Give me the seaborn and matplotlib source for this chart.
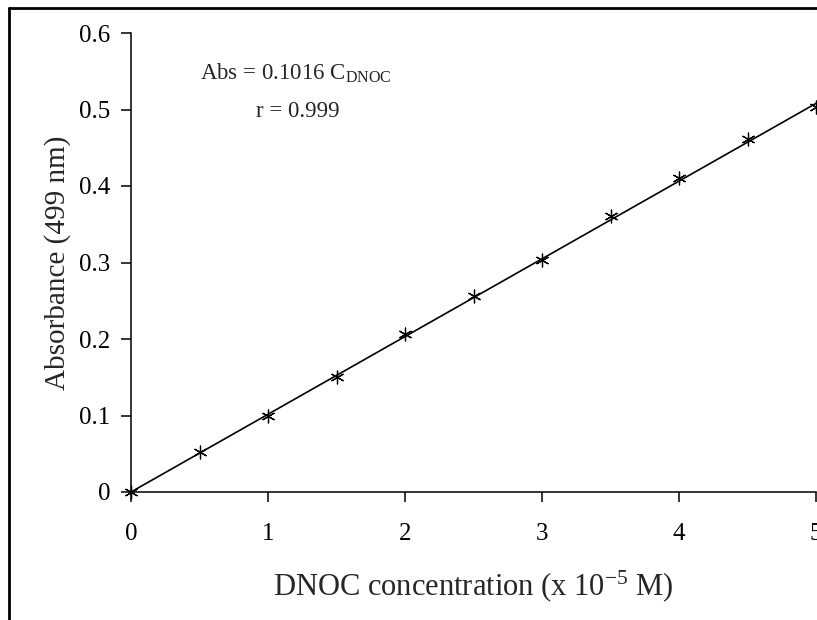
import numpy as np
import pandas as pd
import seaborn as sns
import matplotlib.pyplot as plt
from matplotlib.lines import Line2D

# du lieu doc tu hinh
conc = [0, 0.5, 1, 1.5, 2, 2.5, 3, 3.5, 4, 4.5, 5]
absorb = [0, 0.052, 0.099, 0.150, 0.206, 0.256, 0.303, 0.361, 0.410, 0.461, 0.503]
slope = 0.1016
r_value = 0.999
x_ticks = [0, 1, 2, 3, 4, 5]
y_ticks = [0, 0.1, 0.2, 0.3, 0.4, 0.5, 0.6]
y_tick_labels = ["0", "0.1", "0.2", "0.3", "0.4", "0.5", "0.6"]

df = pd.DataFrame({"conc": conc, "abs": absorb})
df["fit"] = slope * df["conc"]

sns.set_theme(style="ticks")
plt.rcParams["font.family"] = ["Liberation Serif", "DejaVu Serif"]
plt.rcParams["mathtext.fontset"] = "custom"
plt.rcParams["mathtext.rm"] = "Liberation Serif"
plt.rcParams["mathtext.it"] = "Liberation Serif:italic"

fig = plt.figure(figsize=(8.17, 6.2), dpi=100)
ax = fig.add_axes([131 / 817, 128 / 620, 685 / 817, 459 / 620])

# duong hoi quy
sns.lineplot(data=df, x="conc", y="fit", ax=ax, color="black", linewidth=1.2)
# cac diem do
sns.scatterplot(data=df, x="conc", y="abs", ax=ax, marker=(6, 2, 0), s=85,
                color="black", linewidth=0.9, zorder=3, clip_on=False)

ax.set_xlim(0, 5)
ax.set_ylim(0, 0.6)
ax.set_xticks(x_ticks)
ax.set_yticks(y_ticks)
ax.set_yticklabels(y_tick_labels)
ax.tick_params(axis="both", direction="out", length=7, width=1.1, colors="black",
               labelsize=18)
ax.tick_params(axis="y", pad=8)
ax.tick_params(axis="x", pad=15)
for s in ["top", "right"]:
    ax.spines[s].set_visible(False)
for s in ["left", "bottom"]:
    ax.spines[s].set_linewidth(1.1)
    ax.spines[s].set_color("black")

ax.set_xlabel("DNOC concentration (x 10$^{\\mathregular{-5}}$ M)", fontsize=22, labelpad=17)
ax.set_ylabel("Absorbance (499 nm)", fontsize=21, labelpad=6)

ax.text(1.2, 0.547, "Abs = %.4f C$_{\\mathregular{DNOC}}$" % slope, fontsize=16.5,
        ha="center", va="center")
ax.text(1.22, 0.497, "r = %.3f" % r_value, fontsize=16.5, ha="center", va="center")

# khung ngoai
fig.add_artist(Line2D([9 / 817, 9 / 817], [0, 1 - 8 / 620], transform=fig.transFigure,
                      color="black", linewidth=2))
fig.add_artist(Line2D([9 / 817, 1], [1 - 8 / 620, 1 - 8 / 620], transform=fig.transFigure,
                      color="black", linewidth=2))

fig.savefig("out.png", dpi=100)
